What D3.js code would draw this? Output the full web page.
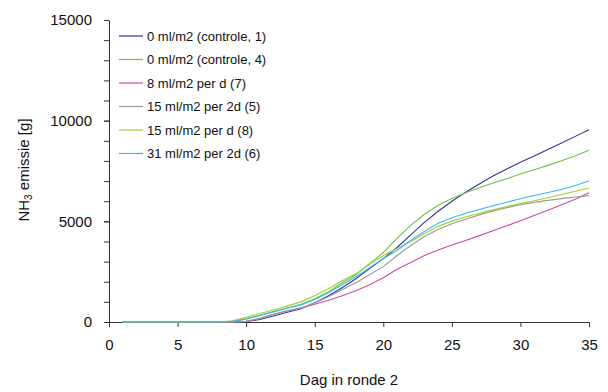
<!DOCTYPE html>
<html>
<head>
<meta charset="utf-8">
<script src="https://cdn.jsdelivr.net/npm/d3@7"></script>
<style>
  body { margin: 0; background: #fff; }
  svg { font-family: "Liberation Sans", Arial, sans-serif; }
</style>
</head>
<body>
<div id="chart"></div>
<script>
// days 1..35
const days = d3.range(1, 36);

const names = [
  "0 ml/m2 (controle, 1)",
  "0 ml/m2 (controle, 4)",
  "8 ml/m2 per d (7)",
  "15 ml/m2 per 2d (5)",
  "15 ml/m2 per d (8)",
  "31 ml/m2 per 2d (6)"
];
const colors = ["#333399", "#6fbf4a", "#c84ca8", "#9a9a9a", "#a3cc33", "#33bbee"];

const control1 = [0,0,0,0,0,0,0,0,5,30,120,300,480,660,950,1300,1700,2150,2650,3150,3700,4330,4950,5500,6000,6440,6850,7250,7600,7930,8250,8570,8890,9220,9550];
const control4 = [0,0,0,0,0,0,0,0,20,150,330,520,700,880,1150,1500,1950,2350,2900,3450,4150,4800,5350,5800,6130,6420,6670,6900,7120,7350,7560,7780,8010,8260,8530];
const dose8d   = [0,0,0,0,0,0,0,0,0,20,170,380,560,700,880,1080,1300,1550,1850,2200,2620,2950,3300,3580,3820,4050,4290,4530,4780,5030,5290,5550,5820,6100,6420];
const dose15_2d = [0,0,0,0,0,0,0,0,0,30,180,380,550,700,950,1250,1600,1950,2350,2750,3300,3800,4250,4600,4880,5100,5320,5520,5680,5820,5940,6040,6130,6210,6275];
const dose15d  = [0,0,0,0,0,0,0,0,60,230,420,600,800,1000,1300,1650,2050,2400,2850,3300,3650,4000,4400,4750,5010,5220,5400,5570,5730,5880,6020,6170,6330,6490,6657];
const dose31_2d = [0,0,0,0,0,0,0,0,30,150,320,500,680,850,1120,1450,1850,2250,2700,3150,3550,4050,4500,4900,5180,5400,5590,5770,5950,6120,6280,6430,6580,6780,7004];

const seriesValues = [control1, control4, dose8d, dose15_2d, dose15d, dose31_2d];

const xTicks = [0, 5, 10, 15, 20, 25, 30, 35];
const yTicks = [0, 5000, 10000, 15000];
const yMinorTicks = d3.range(0, 15001, 1000);

const width = 608, height = 392;
const plotLeft = 109, plotRight = 589, plotTop = 20, plotBottom = 322;

const svg = d3.select("#chart").append("svg")
  .attr("width", width)
  .attr("height", height);

const x = d3.scaleLinear().domain([0, 35]).range([plotLeft, plotRight]);
const y = d3.scaleLinear().domain([0, 15000]).range([plotBottom, plotTop]);

// y axis with minor ticks
svg.append("g")
  .attr("transform", `translate(${plotLeft},0)`)
  .call(d3.axisLeft(y).tickValues(yMinorTicks).tickSize(5).tickSizeOuter(0).tickFormat(""))
  .call(g => g.select(".domain").attr("stroke", "#333"))
  .call(g => g.selectAll(".tick line").attr("stroke", "#333"));

svg.append("g")
  .attr("transform", `translate(${plotLeft},0)`)
  .call(d3.axisLeft(y).tickValues(yTicks).tickSize(5).tickPadding(12).tickFormat(d3.format("d")))
  .call(g => g.select(".domain").remove())
  .call(g => g.selectAll(".tick line").attr("stroke", "#333"))
  .call(g => g.selectAll("text").attr("font-size", 15).attr("fill", "#111")
    .attr("font-family", "Liberation Sans, Arial, sans-serif"));

// x axis
svg.append("g")
  .attr("transform", `translate(0,${plotBottom})`)
  .call(d3.axisBottom(x).tickValues(xTicks).tickSize(5).tickPadding(12).tickSizeOuter(0))
  .call(g => g.select(".domain").attr("stroke", "#333"))
  .call(g => g.selectAll(".tick line").attr("stroke", "#333"))
  .call(g => g.selectAll("text").attr("font-size", 15).attr("fill", "#111")
    .attr("font-family", "Liberation Sans, Arial, sans-serif"));

// axis titles
svg.append("text")
  .attr("x", (plotLeft + plotRight) / 2)
  .attr("y", 385)
  .attr("text-anchor", "middle")
  .attr("font-size", 15)
  .attr("fill", "#111")
  .text("Dag in ronde 2");

const yTitle = svg.append("text")
  .attr("transform", "translate(29,170) rotate(-90)")
  .attr("text-anchor", "middle")
  .attr("font-size", 15)
  .attr("fill", "#111");
yTitle.append("tspan").text("NH");
yTitle.append("tspan").attr("font-size", 10).attr("dy", 3).text("3");
yTitle.append("tspan").attr("dy", -3).text(" emissie [g]");

// lines
const line = d3.line()
  .x((d, i) => x(days[i]))
  .y(d => y(d));

svg.append("g")
  .selectAll("path")
  .data(seriesValues)
  .join("path")
  .attr("d", line)
  .attr("fill", "none")
  .attr("stroke", (d, i) => colors[i])
  .attr("stroke-width", 1.1);

// legend
const legend = svg.append("g")
  .selectAll("g")
  .data(names)
  .join("g")
  .attr("transform", (d, i) => `translate(119,${36 + i * 23.5})`);

legend.append("line")
  .attr("x1", 0).attr("x2", 24)
  .attr("y1", 0).attr("y2", 0)
  .attr("stroke", (d, i) => colors[i])
  .attr("stroke-width", 1.2);

legend.append("text")
  .attr("x", 28)
  .attr("y", 0)
  .attr("dy", "0.35em")
  .attr("font-size", 13)
  .attr("fill", "#111")
  .text(d => d);
</script>
</body>
</html>
